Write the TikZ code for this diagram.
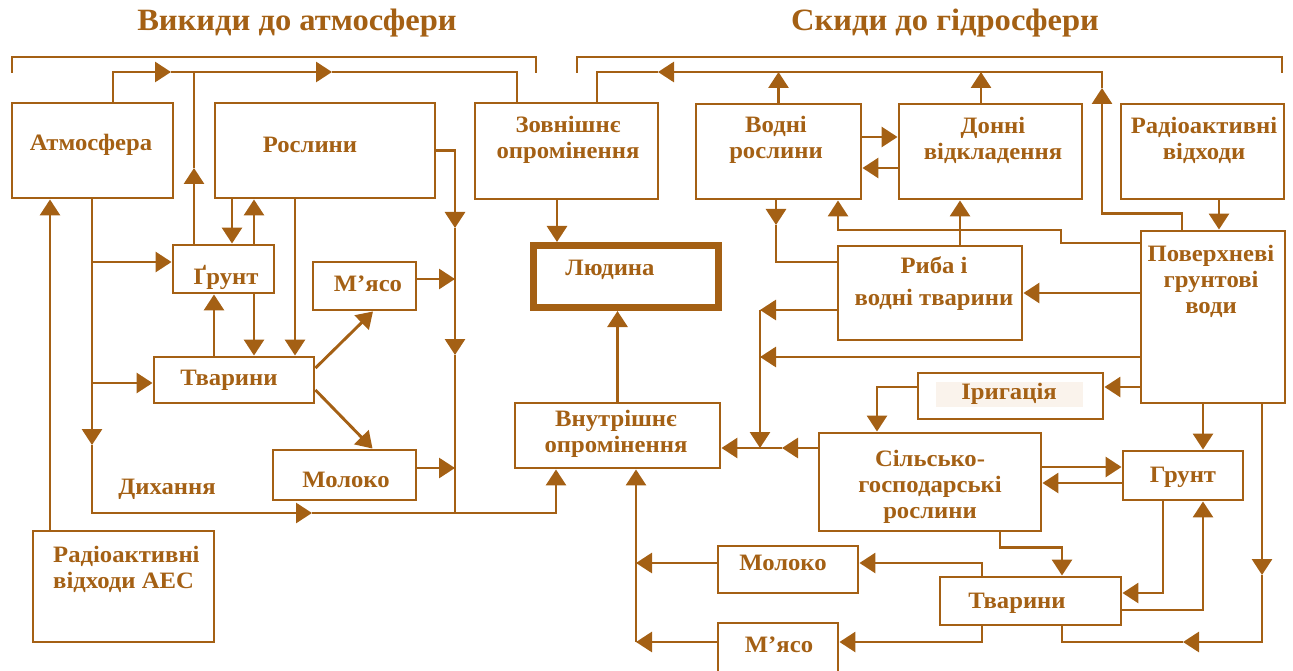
\documentclass[tikz,border=0pt]{standalone}
\usepackage{fontspec}
\setmainfont{Liberation Serif}[FakeStretch=1.05]
\usepackage{xcolor}
\usetikzlibrary{positioning, arrows.meta, calc}
\definecolor{brn}{RGB}{164,96,20}
\definecolor{hilite}{RGB}{250,243,236}

\begin{document}
\begin{tikzpicture}[x=1pt, y=-1pt,
    box/.style={draw=brn, line width=2.9pt, fill=white, rectangle, inner sep=0pt},
    txt/.style={text=brn, font=\bfseries\fontsize{23.5}{26}\selectfont, align=center, inner sep=0pt},
    ttl/.style={text=brn, font=\bfseries\fontsize{31}{36}\selectfont, inner sep=0pt},
    flow/.style={draw=brn, line width=2.9pt},
    tip/.style={flow, -{Triangle[length=16pt, width=20pt]}}
  ]
  \useasboundingbox (0,0) rectangle (1293,671);

  % titles and brackets
  \node[ttl] (t-atm) at (297,23) {Викиди до атмосфери};
  \node[ttl] (t-hyd) at (945,23) {Скиди до гідросфери};
  \draw[flow] (12,73) |- (536,57) -- (536,73);
  \draw[flow] (577,73) |- (1282,57) -- (1282,73);

  % atmosphere side
  \node[box, minimum width=161, minimum height=95] (atm) at (92.5,150.5) {};
  \node[txt] (atm-t) at (91,145) {Атмосфера};
  \node[box, minimum width=220, minimum height=95] (ros) at (325,150.5) {};
  \node[txt] (ros-t) at (310,145) {Рослини};
  \node[box, minimum width=183, minimum height=96] (zov) at (566.5,151) {};
  \node[txt] (zov-t) at (568,140) {Зовнішнє\\опромінення};
  \node[box, minimum width=101, minimum height=48] (grL) at (223.5,269) {};
  \node[txt] (grL-t) at (226,277) {Ґрунт};
  \node[box, minimum width=103, minimum height=48] (mL) at (364.5,286) {};
  \node[txt] (mL-t) at (368,284) {М’ясо};
  \node[box, minimum width=160, minimum height=46] (tvL) at (234,380) {};
  \node[txt] (tvL-t) at (229,380) {Тварини};
  \node[box, minimum width=143, minimum height=50] (molL) at (344.5,475) {};
  \node[txt] (molL-t) at (346,480) {Молоко};
  \node[box, minimum width=181, minimum height=111] (radL) at (123.5,586.5) {};
  \node[txt, align=left, anchor=west] (radL-t) at (53,569) {Радіоактивні\\відходи АЕС};
  \node[txt] (dyh) at (167,489) {Дихання};

  % man
  \node[box, line width=7pt, minimum width=185, minimum height=62] (lyu) at (626,276.5) {};
  \node[txt] (lyu-t) at (610,270) {Людина};
  \node[box, minimum width=205, minimum height=65] (vnu) at (617.5,435.5) {};
  \node[txt] (vnu-t) at (616,434) {Внутрішнє\\опромінення};

  % hydrosphere side
  \node[box, minimum width=165, minimum height=95] (vod) at (778.5,151.5) {};
  \node[txt] (vod-t) at (776,140) {Водні\\рослини};
  \node[box, minimum width=183, minimum height=95] (don) at (990.5,151.5) {};
  \node[txt] (don-t) at (993,140) {Донні\\відкладення};
  \node[box, minimum width=163, minimum height=95] (radR) at (1202.5,151.5) {};
  \node[txt] (radR-t) at (1204,140) {Радіоактивні\\відходи};
  \node[box, minimum width=144, minimum height=172] (pov) at (1213,317) {};
  \node[txt] (pov-t) at (1211,281) {Поверхневі\\грунтові\\води};
  \node[box, minimum width=184, minimum height=94] (ryb) at (930,293) {};
  \node[txt] (ryb-t) at (934,284) {Риба і\\[6pt]водні тварини};
  \node[box, minimum width=185, minimum height=46] (irr) at (1010.5,396) {};
  \node[txt, fill=hilite, minimum width=147, minimum height=25] (irr-t) at (1009,394) {Іригація};
  \node[box, minimum width=222, minimum height=98] (sil) at (930,482) {};
  \node[txt] (sil-t) at (930,487) {Сільсько-\\господарські\\рослини};
  \node[box, minimum width=120, minimum height=49] (grR) at (1183,475.5) {};
  \node[txt] (grR-t) at (1183,477) {Грунт};
  \node[box, minimum width=181, minimum height=48] (tvR) at (1030.5,601) {};
  \node[txt] (tvR-t) at (1017,603) {Тварини};
  \node[box, minimum width=140, minimum height=47] (molR) at (788,569.5) {};
  \node[txt] (molR-t) at (783,563) {Молоко};
  \node[box, minimum width=120, minimum height=58] (mR) at (778,652) {};
  \node[txt] (mR-t) at (779,645) {М’ясо};

  % flows into the atmosphere
  \coordinate (tA) at (171,72);
  \coordinate (tB) at (332,72);
  \coordinate (tC) at (194,168);
  \draw[tip] ([xshift=20.5]atm.north) |- (tA);
  \draw[tip] (tA) -- (tB);
  \draw[flow] (tB) -| (517,0 |- zov.north);
  \draw[tip] (194,0 |- grL.north) -- (tC);
  \draw[flow] (tC) -- (194,0 |- tA);
  \draw[tip] (50,0 |- radL.north) -- (50,0 |- atm.south);

  % atmosphere down to soil, animals and breathing
  \coordinate (tD) at (92,445);
  \coordinate (tE) at (312,513);
  \draw[tip] (92,0 |- atm.south) -- (tD);
  \draw[tip] (tD) |- (tE);
  \draw[tip] (tE) -| (556,0 |- vnu.south);
  \draw[tip] (tD |- 0,262) -- (grL.west |- 0,262);
  \draw[tip] (tD |- 0,383) -- (tvL.west |- 0,383);

  % plants, soil, animals
  \draw[tip] (232,0 |- ros.south) -- (232,0 |- grL.north);
  \draw[tip] (254,0 |- grL.north) -- (254,0 |- ros.south);
  \draw[tip] (254,0 |- grL.south) -- (254,0 |- tvL.north);
  \draw[tip] (214,0 |- tvL.north) -- (214,0 |- grL.south);
  \draw[tip] (295,0 |- ros.south) -- (295,0 |- tvL.north);
  \draw[tip] ([yshift=12]tvL.east) -- ([xshift=8.5]mL.south);
  \draw[tip] ([yshift=-10]tvL.east) -- ([xshift=28]molL.north);

  % food chain to man
  \coordinate (tF) at (455,228);
  \coordinate (tG) at (455,355);
  \coordinate (jL) at (455,513);
  \draw[tip] (ros.east) -| (tF);
  \draw[tip] (tF) -- (tG);
  \draw[flow] (tG) -- (jL);
  \draw[tip] (mL.east |- 0,279) -- (tF |- 0,279);
  \draw[tip] (molL.east |- 0,468) -- (tF |- 0,468);
  \draw[tip] (557,0 |- zov.south) -- (557,0 |- lyu.north);
  \draw[tip] (vnu.north) -- (vnu.north |- lyu.south);

  % flows into the hydrosphere
  \coordinate (tH) at (1102,88);
  \coordinate (tI) at (658,72);
  \draw[tip] ([xshift=-31]pov.north) -- ++(0,-16) -| (tH);
  \draw[tip] (tH) |- (tI);
  \draw[flow] (tI) -| (597,0 |- zov.north);
  \draw[tip] (vod.north) -- (vod.north |- tI);
  \draw[tip] (981,0 |- don.north) -- (981,0 |- tI);
  \draw[tip] (vod.east |- 0,137) -- (don.west |- 0,137);
  \draw[tip] (don.west |- 0,168) -- (vod.east |- 0,168);
  \draw[tip] (1219,0 |- radR.south) -- (1219,0 |- pov.north);

  % water plants, sediments, fish
  \coordinate (tJ) at (776,225);
  \draw[tip] (776,0 |- vod.south) -- (tJ);
  \draw[flow] (tJ) |- (ryb.west |- 0,262);
  \draw[tip] (pov.west |- 0,243) -| (1061,230) -| (838,0 |- vod.south);
  \draw[tip] (960,0 |- ryb.north) -- (960,0 |- don.south);
  \draw[tip] (pov.west |- ryb.east) -- (ryb.east);

  % to internal exposure
  \coordinate (jR) at (760,310);
  \coordinate (tK) at (782,448);
  \draw[tip] (ryb.west |- jR) -- (jR);
  \draw[tip] (pov.west |- 0,357) -- (jR |- 0,357);
  \draw[tip] (jR) -- (jR |- tK);
  \draw[tip] (sil.west |- tK) -- (tK);
  \draw[tip] (tK) -- (vnu.east |- tK);

  % irrigation, soil, farm animals
  \draw[tip] (pov.west |- 0,387) -- (irr.east |- 0,387);
  \draw[tip] (irr.west |- 0,387) -| (877,0 |- sil.north);
  \draw[tip] (1203,0 |- pov.south) -- (1203,0 |- grR.north);
  \coordinate (tL) at (1262,575);
  \coordinate (tM) at (1183,642);
  \draw[tip] (1262,0 |- pov.south) -- (tL);
  \draw[tip] (tL) |- (tM);
  \draw[flow] (tM) -| (1062,0 |- tvR.south);
  \draw[tip] (sil.east |- 0,467) -- (grR.west |- 0,467);
  \draw[tip] (grR.west |- 0,483) -- (sil.east |- 0,483);
  \draw[tip] (1163,0 |- grR.south) |- (tvR.east |- 0,593);
  \draw[tip] (tvR.east |- 0,610) -| (1203,0 |- grR.south);
  \draw[tip] (1000,0 |- sil.south) -- ++(0,15) -| (1062,0 |- tvR.north);

  % milk and meat
  \coordinate (jM) at (636,642);
  \draw[tip] (982,0 |- tvR.north) |- (molR.east |- 0,563);
  \draw[tip] (982,0 |- tvR.south) |- (mR.east |- 0,642);
  \draw[tip] (molR.west |- 0,563) -- (jM |- 0,563);
  \draw[tip] (mR.west |- jM) -- (jM);
  \draw[tip] (jM) -- (jM |- vnu.south);
\end{tikzpicture}
\end{document}
